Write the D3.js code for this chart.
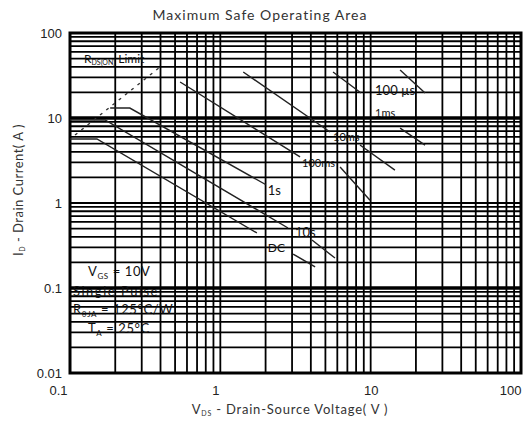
<!DOCTYPE html>
<html>
<head>
<meta charset="utf-8">
<script src="https://cdn.jsdelivr.net/npm/d3@7"></script>
<style>
  body { margin: 0; background: #fff; }
  svg { font-family: Lato, "Open Sans", sans-serif; }
</style>
</head>
<body>
<div id="chart"></div>
<script>
// axis ticks
const xTicks = [0.1, 1, 10, 100];
const yTicks = [0.01, 0.1, 1, 10, 100];

// RDS(on) limit (dashed)
const rdsV = [0.108, 0.397];
const rdsI = [6.3, 39.8];

// pulse-width curves, null = gap for label
const curveNames = ["100µs", "1ms", "10ms", "100ms", "1s", "10s", "DC"];
const curveV = [
  [15.7, 23.0],
  [5.62, 8.63, null, 15.7, 23.0],
  [1.42, 5.37, null, 8.49, 14.5],
  [0.54, 3.39, null, 6.26, 9.9],
  [0.185, 0.25, 2.0],
  [0.1, 0.171, 2.82, null, 4.07, 5.79],
  [0.1, 0.151, 1.75, null, 3.05, 4.27]
];
const curveI = [
  [36.7, 19.7],
  [34.8, 19.7, null, 7.6, 4.8],
  [34.8, 6.84, null, 4.81, 2.44],
  [26.5, 3.48, null, 2.65, 1.08],
  [13.1, 13.1, 1.65],
  [9.47, 9.47, 0.508, null, 0.367, 0.225],
  [5.66, 5.66, 0.444, null, 0.251, 0.177]
];

const margin = { top: 33, right: 3, bottom: 48, left: 70 };
const width = 524 - margin.left - margin.right;
const height = 421 - margin.top - margin.bottom;

const svg = d3.select("#chart")
  .append("svg")
  .attr("width", 524)
  .attr("height", 421);

const g = svg.append("g")
  .attr("transform", `translate(${margin.left},${margin.top})`);

const x = d3.scaleLog().domain([0.1, 100]).range([0, width]);
const y = d3.scaleLog().domain([0.01, 100]).range([height, 0]);

// grid: every 1..9 in each decade
const gridX = [];
const gridY = [];
for (let d = 0.1; d < 100; d *= 10) for (let k = 1; k < 10; k++) gridX.push(d * k);
for (let d = 0.01; d < 100; d *= 10) for (let k = 1; k < 10; k++) gridY.push(d * k);

g.selectAll(".gx")
  .data(gridX)
  .enter().append("line")
  .attr("x1", d => x(d)).attr("x2", d => x(d))
  .attr("y1", 0).attr("y2", height)
  .attr("stroke", "#000").attr("stroke-width", 1.8);

g.selectAll(".gy")
  .data(gridY)
  .enter().append("line")
  .attr("y1", d => y(d)).attr("y2", d => y(d))
  .attr("x1", 0).attr("x2", width)
  .attr("stroke", "#000")
  .attr("stroke-width", d => (Math.abs(d - 10) < 1e-6 || Math.abs(d - 0.1) < 1e-9) ? 3.5 : 1.8);

g.append("rect")
  .attr("width", width).attr("height", height)
  .attr("fill", "none").attr("stroke", "#000").attr("stroke-width", 3);

// axes (labels only)
const xAxis = g.append("g")
  .attr("transform", `translate(0,${height})`)
  .call(d3.axisBottom(x).tickValues(xTicks).tickFormat(d3.format("~g")).tickSize(0).tickPadding(13));
xAxis.select(".domain").remove();
xAxis.selectAll(".tick text")
  .attr("text-anchor", (d, i) => i === 0 || i === xTicks.length - 1 ? "end" : "middle")
  .attr("dx", (d, i) => i === 0 ? -3 : i === 1 ? -5 : 0);

const yAxis = g.append("g")
  .call(d3.axisLeft(y).tickValues(yTicks).tickFormat(d3.format("~g")).tickSize(0).tickPadding(8));
yAxis.select(".domain").remove();

svg.selectAll(".tick text").attr("font-size", 13).attr("fill", "#222");

// curves
const line = d3.line()
  .defined(d => d[0] != null)
  .x(d => x(d[0]))
  .y(d => y(d[1]));

curveNames.forEach((name, i) => {
  const pts = curveV[i].map((v, j) => [v, curveI[i][j]]);
  g.append("path")
    .attr("d", line(pts))
    .attr("fill", "none")
    .attr("stroke", "#222")
    .attr("stroke-width", 1.4);
});

g.append("path")
  .attr("d", line(rdsV.map((v, j) => [v, rdsI[j]])))
  .attr("fill", "none")
  .attr("stroke", "#333")
  .attr("stroke-width", 1.4)
  .attr("stroke-dasharray", "3,5");

// curve labels
const labels = [
  { t: "100 µs", v: 10.7, i: 18.6, s: 13 },
  { t: "1ms", v: 10.7, i: 10.3, s: 11 },
  { t: "10ms", v: 5.62, i: 5.36, s: 11 },
  { t: "100ms", v: 3.5, i: 2.65, s: 11 },
  { t: "1s", v: 2.07, i: 1.24, s: 13 },
  { t: "10s", v: 3.14, i: 0.398, s: 13 },
  { t: "DC", v: 2.07, i: 0.265, s: 12 }
];
g.selectAll(".clab")
  .data(labels)
  .enter().append("text")
  .attr("x", d => x(d.v)).attr("y", d => y(d.i))
  .attr("font-size", d => d.s)
  .attr("fill", "#111")
  .text(d => d.t);

// R_DS(on) label
const rdsLab = g.append("text")
  .attr("x", 14).attr("y", 30)
  .attr("font-size", 12).attr("fill", "#111");
rdsLab.append("tspan").text("R");
rdsLab.append("tspan").attr("font-size", 7).attr("dy", 2).text("DS(ON)");
rdsLab.append("tspan").attr("dy", -2).text(" Limit");

// conditions
const cond = g.append("g").attr("font-size", 13).attr("fill", "#111").attr("letter-spacing", 0.6);
const t1 = cond.append("text").attr("x", 18).attr("y", 243);
t1.append("tspan").text("V");
t1.append("tspan").attr("font-size", 8).attr("dy", 3).text("GS");
t1.append("tspan").attr("dy", -3).text(" = 10V");
cond.append("text").attr("x", 3).attr("y", 263).attr("letter-spacing", 1.5).text("Single Pulse");
const t3 = cond.append("text").attr("x", 3).attr("y", 281);
t3.append("tspan").text("R");
t3.append("tspan").attr("font-size", 8).attr("dy", 3).text("θJA");
t3.append("tspan").attr("dy", -3).text(" = 125°C/W");
const t4 = cond.append("text").attr("x", 18).attr("y", 300);
t4.append("tspan").text("T");
t4.append("tspan").attr("font-size", 8).attr("dy", 3).text("A");
t4.append("tspan").attr("dy", -3).text(" = 25°C");

// titles
svg.append("text")
  .attr("x", 260).attr("y", 20)
  .attr("text-anchor", "middle")
  .attr("font-size", 14).attr("fill", "#333")
  .attr("letter-spacing", 1)
  .text("Maximum Safe Operating Area");

const xt = svg.append("text")
  .attr("x", 290).attr("y", 414)
  .attr("text-anchor", "middle")
  .attr("font-size", 13).attr("fill", "#333")
  .attr("letter-spacing", 0.8);
xt.append("tspan").text("V");
xt.append("tspan").attr("font-size", 7).attr("dy", 2).text("DS");
xt.append("tspan").attr("dy", -2).text("  - Drain-Source Voltage( V )");

const yt = svg.append("text")
  .attr("transform", "translate(23,190) rotate(-90)")
  .attr("text-anchor", "middle")
  .attr("font-size", 13).attr("fill", "#333")
  .attr("letter-spacing", 0.5);
yt.append("tspan").text("I");
yt.append("tspan").attr("font-size", 7).attr("dy", 2).text("D");
yt.append("tspan").attr("dy", -2).text(" - Drain Current( A )");
</script>
</body>
</html>
